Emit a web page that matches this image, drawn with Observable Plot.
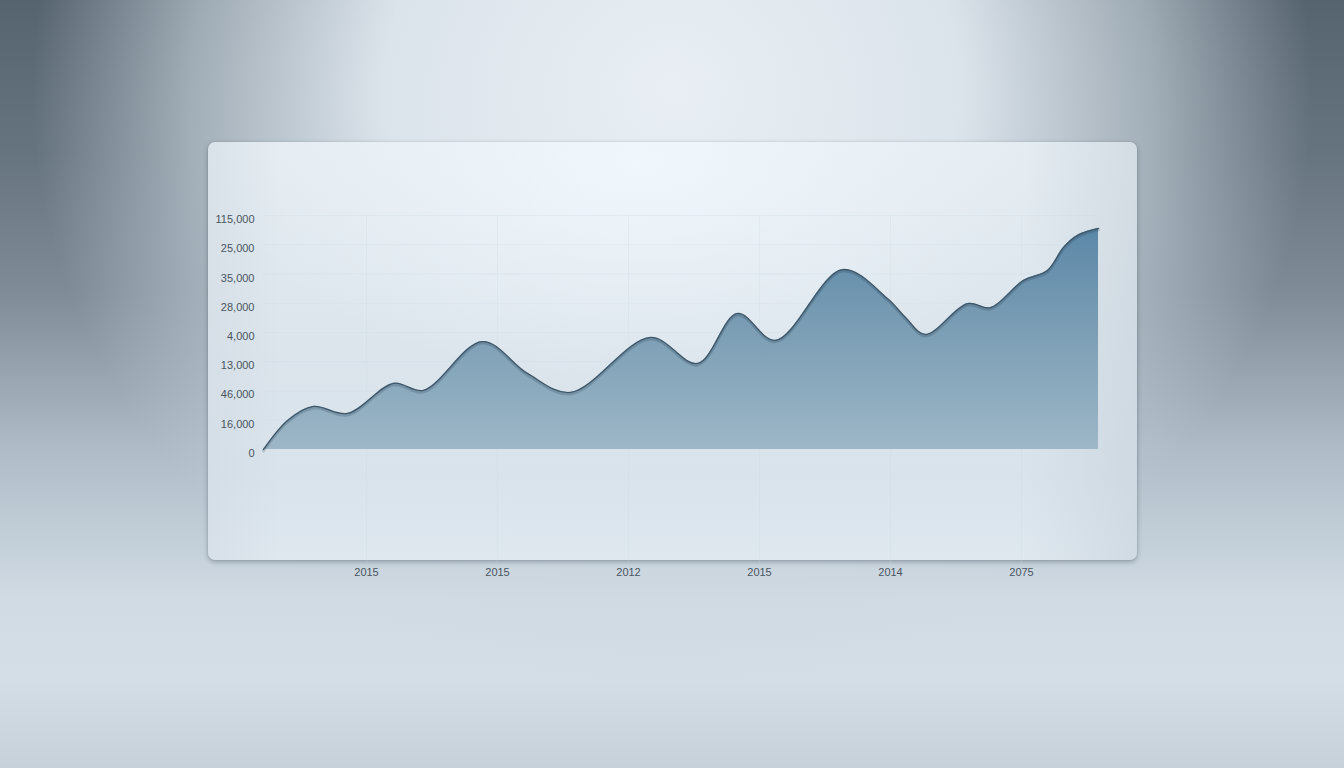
<!DOCTYPE html>
<html>
<head>
<meta charset="utf-8">
<script src="https://cdn.jsdelivr.net/npm/d3@7"></script>
<script src="https://cdn.jsdelivr.net/npm/@observablehq/plot@0.6"></script>
<style>
html, body { margin: 0; padding: 0; width: 1344px; height: 768px; overflow: hidden; }
body {
  position: relative;
  background:
    radial-gradient(ellipse 640px 600px at 672px 90px, rgba(232,238,244,1) 0%, rgba(224,232,239,0.97) 45%, rgba(205,216,225,0.6) 75%, rgba(205,216,225,0) 100%),
    linear-gradient(to bottom, #56646f 0%, #66747f 20%, #7f8c98 38%, #aebbc6 58%, #d0dbe4 78%, #d4dee6 88%, #c6d1da 100%);
}
#panel {
  position: absolute; left: 208px; top: 142px; width: 929px; height: 418px;
  border-radius: 7px;
  background:
    radial-gradient(ellipse 420px 220px at 430px 20px, rgba(240,247,253,0.95) 0%, rgba(240,247,253,0) 100%),
    linear-gradient(to right, rgba(208,217,225,0.5) 0%, rgba(208,217,225,0) 8%, rgba(208,217,225,0) 88%, rgba(200,210,218,0.6) 100%),
    linear-gradient(to bottom, #e4ecf2 0%, #dce5ec 50%, #d9e3eb 80%, #dfe8ef 100%);
  box-shadow: 0 2px 5px rgba(40,55,70,0.35), 0 0 1px rgba(40,55,70,0.4);
}
#chart { position: absolute; left: 0; top: 0; }
</style>
</head>
<body>
<div id="panel"></div>
<div id="chart"></div>
<script>
// Tick labels as printed in the reference (bottom to top for y)
const yTickLabels = ["0", "16,000", "46,000", "13,000", "4,000", "28,000", "35,000", "25,000", "115,000"];
const xTickLabels = ["2015", "2015", "2012", "2015", "2014", "2075"];

// Series: position along the x axis (tick index units) and value (tick index units)
const seriesT = [0.214, 0.40, 0.595, 0.855, 1.206, 1.435, 1.885, 2.229, 2.557, 3.168, 3.527, 3.832, 4.122, 4.634, 4.977, 5.115, 5.267, 5.588, 5.763, 6.015, 6.198, 6.321, 6.427, 6.588];
const seriesV = [0.00, 1.00, 1.47, 1.23, 2.26, 2.02, 3.69, 2.60, 1.95, 3.83, 2.94, 4.65, 3.73, 6.15, 5.16, 4.51, 3.93, 4.99, 4.85, 5.78, 6.12, 6.91, 7.32, 7.56];

const data = seriesT.map((t, i) => ({t, v: seriesV[i]}));
const yTicks = yTickLabels.map((_, i) => i);
const xTicks = xTickLabels.map((_, i) => i + 1);

const plot = Plot.plot({
  width: 1344,
  height: 768,
  marginLeft: 235,
  marginRight: 192,
  marginTop: 215,
  marginBottom: 205,
  style: {background: "transparent", fontFamily: "'Liberation Sans', Arial, sans-serif", fontSize: "11px", color: "#4a5560"},
  x: {domain: [0, 7], label: null},
  y: {domain: [-3.9, 8], label: null},
  marks: [
    Plot.ruleY(yTicks.slice(1), {x1: seriesT[0], x2: seriesT[seriesT.length - 1], stroke: "#c9d6e0", strokeOpacity: 0.3}),
    Plot.ruleX(xTicks, {y1: -3.9, y2: 8, stroke: "#c9d6e0", strokeOpacity: 0.25}),
    Plot.areaY(data, {x: "t", y: "v", curve: "catmull-rom", fill: "url(#areaGrad)"}),
    Plot.lineY(data, {x: "t", y: "v", curve: "catmull-rom", stroke: "#1e3344", strokeOpacity: 0.2, strokeWidth: 3, dy: 1.5}),
    Plot.lineY(data, {x: "t", y: "v", curve: "catmull-rom", stroke: "#3e5769", strokeWidth: 1.3}),
    Plot.axisY({ticks: yTicks, tickFormat: i => yTickLabels[i], tickSize: 0, tickPadding: 0, dx: 19, dy: 4, fill: "#4a5560"}),
    Plot.axisX({ticks: xTicks, tickFormat: i => xTickLabels[i - 1], tickSize: 0, tickPadding: 5, fill: "#4a5560"})
  ]
});

const ys = plot.scale("y");
const ns = "http://www.w3.org/2000/svg";
const defs = document.createElementNS(ns, "defs");
defs.innerHTML = `<linearGradient id="areaGrad" gradientUnits="userSpaceOnUse" x1="0" y1="${ys.apply(7.7)}" x2="0" y2="${ys.apply(0)}">
  <stop offset="0" stop-color="#5a87a7"/>
  <stop offset="0.45" stop-color="#7a9db4"/>
  <stop offset="1" stop-color="#9db7c7"/>
</linearGradient>`;
plot.insertBefore(defs, plot.firstChild);
document.getElementById("chart").appendChild(plot);
</script>
</body>
</html>
